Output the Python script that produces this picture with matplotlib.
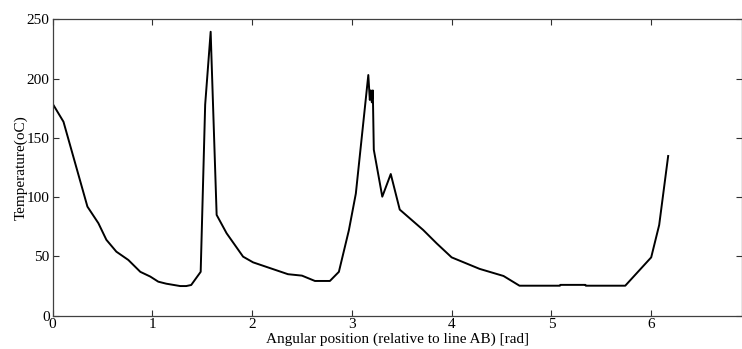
import matplotlib
matplotlib.use("Agg")
import matplotlib.pyplot as plt

angle = [0.0, 0.11, 0.35, 0.46, 0.54, 0.64, 0.76, 0.88, 0.98, 1.06, 1.14, 1.28, 1.34, 1.39,
         1.485, 1.53, 1.585, 1.592, 1.645, 1.745, 1.91, 2.01, 2.36, 2.50, 2.63, 2.78,
         2.87, 2.97, 3.04, 3.165, 3.18, 3.19, 3.20, 3.21, 3.22, 3.305, 3.39, 3.48,
         3.715, 3.85, 4.0, 4.28, 4.52, 4.68, 5.085, 5.09, 5.34, 5.345, 5.74, 6.0,
         6.08, 6.17]
temp = [179, 163.6, 92, 78, 64, 54, 47, 37, 33, 28.7, 27, 25, 25, 25.9,
        37, 178, 239.5, 221, 85, 69.5, 49.8, 45, 35, 33.8, 29.3, 29.3,
        37, 72, 103, 203, 182, 190, 180, 190, 140, 100.4, 119.5, 89.5,
        72.3, 61, 49.2, 39.5, 33.5, 25.3, 25.3, 26, 26, 25.3, 25.3, 49.2,
        76.5, 134.7]

xticks = [0, 1, 2, 3, 4, 5, 6]
yticks = [0, 50, 100, 150, 200, 250]

plt.rcParams['font.family'] = ['Liberation Serif', 'DejaVu Serif']
fig = plt.figure(figsize=(7.42, 3.49), dpi=100)
ax = fig.add_axes([52.5/742, 33.3/349, 689/742, 296.4/349])
ax.plot(angle, temp, color='black', lw=1.4)
ax.set_xlim(0, 6.905)
ax.set_ylim(0, 250)
ax.set_xticks(xticks)
ax.set_yticks(yticks)
ax.tick_params(direction='in', length=4.3, width=0.8, color='#303030',
               top=True, right=True, labelsize=11, pad=2)
for s in ax.spines.values():
    s.set_color('#404040')
    s.set_linewidth(0.9)
ax.set_xlabel('Angular position (relative to line AB) [rad]', fontsize=11, labelpad=1)
ax.set_ylabel('Temperature(oC)', fontsize=11, labelpad=-1)
fig.savefig('out.png', dpi=100)
